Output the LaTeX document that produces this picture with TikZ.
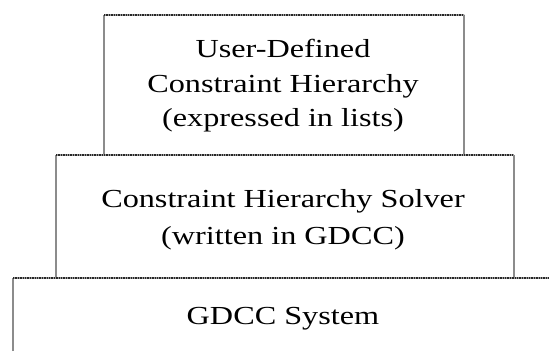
\documentclass[tikz,border=0pt]{standalone}
\usepackage{fontspec}
\setmainfont{Liberation Serif}[FakeStretch=1.24]
\begin{document}
\begin{tikzpicture}[x=1pt,y=-1pt,
  vline/.style={draw=black!45,line width=2.2pt},
  hline/.style={draw=black!40,line width=2pt},
  hdots/.style={draw=black!85,line width=1.4pt,dash pattern=on 1.3pt off 1.1pt},
  lbl/.style={anchor=base,inner sep=0pt,font=\fontsize{26}{31}\selectfont}]
\useasboundingbox (0,0) rectangle (549,351);
\fill[white] (0,0) rectangle (549,351);
% corner coordinates
\coordinate (t1) at (104,155); \coordinate (t2) at (104,15);
\coordinate (t3) at (464,15);  \coordinate (t4) at (464,155);
\coordinate (m1) at (56,278);  \coordinate (m2) at (56,155);
\coordinate (m3) at (514,155); \coordinate (m4) at (514,278);
\coordinate (b1) at (13,351);  \coordinate (b2) at (13,278);
\coordinate (b3) at (549,278);
% verticals
\draw[vline] (t1) -- (t2);
\draw[vline] (t3) -- (t4);
\draw[vline] (m1) -- (m2);
\draw[vline] (m3) -- (m4);
\draw[vline] (b1) -- (b2);
% horizontals
\draw[hline] (t2) -- (t3);
\draw[hline] (m2) -- (m3);
\draw[hline] (b2) -- (b3);
\draw[hdots] (t2) -- (t3);
\draw[hdots] (m2) -- (m3);
\draw[hdots] (b2) -- (b3);
% texts
\node[lbl] (u1) at (283,57)  {User-Defined};
\node[lbl] (u2) at (283,92)  {Constraint Hierarchy};
\node[lbl] (u3) at (283,126) {(expressed in lists)};
\node[lbl] (s1) at (283,207) {Constraint Hierarchy Solver};
\node[lbl] (s2) at (283,244) {(written in GDCC)};
\node[lbl] (g1) at (283,324) {GDCC System};
\end{tikzpicture}
\end{document}
